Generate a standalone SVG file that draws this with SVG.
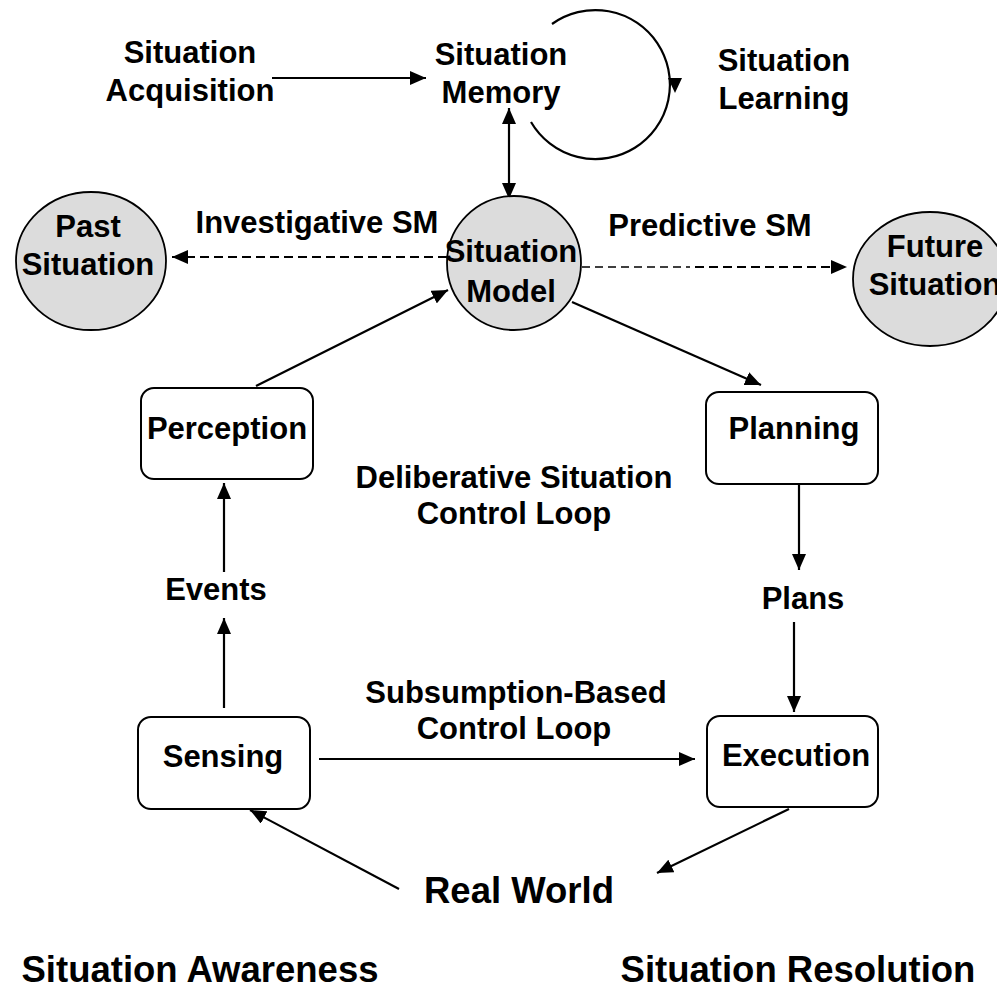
<svg xmlns="http://www.w3.org/2000/svg" width="997" height="992" viewBox="0 0 997 992">
<style>
text{font-family:"Liberation Sans",Arial,Helvetica,sans-serif;font-weight:bold;fill:#000;text-anchor:middle;font-size:31px}
.big{font-size:36.5px}
.box{fill:#fff;stroke:#000;stroke-width:2}
.ell{fill:#dcdcdc;stroke:#000;stroke-width:1.8}
.ln{stroke:#000;stroke-width:2.2;fill:none}
.dash{stroke:#000;stroke-width:2.2;fill:none;stroke-dasharray:9 5}
.dash2{stroke:#000;stroke-width:1.3;fill:none;stroke-dasharray:8 5}
</style>
<defs>
<marker id="ah" markerUnits="userSpaceOnUse" markerWidth="16" markerHeight="14" refX="16" refY="7" orient="auto-start-reverse" viewBox="0 0 16 14">
<path d="M0,0 L16,7 L0,14 z" fill="#000"/>
</marker>
</defs>
<rect width="997" height="992" fill="#fff"/>

<g id="connectors">
<line class="ln" x1="272" y1="78" x2="426" y2="78" marker-end="url(#ah)"/>
<path class="ln" d="M552,24 A74.5,74.5 0 1,1 531,122"/>
<path d="M668,78 L682,78 L675,93 z" fill="#000"/>
<line class="ln" x1="509" y1="108" x2="509" y2="199" marker-start="url(#ah)" marker-end="url(#ah)"/>
<line class="dash" x1="447" y1="257" x2="172" y2="257" marker-end="url(#ah)"/>
<line class="dash2" x1="582" y1="267" x2="690" y2="267"/>
<line class="dash" x1="695" y1="267" x2="847" y2="267" marker-end="url(#ah)"/>
<line class="ln" x1="256" y1="386" x2="448" y2="290" marker-end="url(#ah)"/>
<line class="ln" x1="572" y1="302" x2="761" y2="385" marker-end="url(#ah)"/>
<line class="ln" x1="224" y1="572" x2="224" y2="483" marker-end="url(#ah)"/>
<line class="ln" x1="224" y1="708" x2="224" y2="618" marker-end="url(#ah)"/>
<line class="ln" x1="799" y1="480" x2="799" y2="570" marker-end="url(#ah)"/>
<line class="ln" x1="794" y1="622" x2="794" y2="712" marker-end="url(#ah)"/>
<line class="ln" x1="319" y1="759" x2="695" y2="759" marker-end="url(#ah)"/>
<line class="ln" x1="789" y1="809" x2="657" y2="873" marker-end="url(#ah)"/>
<line class="ln" x1="399" y1="889" x2="250" y2="810" marker-end="url(#ah)"/>
</g>

<g id="situation-acquisition"><text x="190" y="63">Situation</text><text x="190" y="101">Acquisition</text></g>
<g id="situation-memory"><text x="501" y="65">Situation</text><text x="501" y="103">Memory</text></g>
<g id="situation-learning"><text x="784" y="71">Situation</text><text x="784" y="109">Learning</text></g>
<g id="investigative-sm"><text x="317" y="233">Investigative SM</text></g>
<g id="predictive-sm"><text x="710" y="236">Predictive SM</text></g>

<g id="past-situation"><ellipse class="ell" cx="91" cy="261" rx="75" ry="69"/><text x="88" y="237">Past</text><text x="88" y="275">Situation</text></g>
<g id="situation-model"><ellipse class="ell" cx="514" cy="263" rx="67" ry="67"/><text x="511" y="262">Situation</text><text x="511" y="302">Model</text></g>
<g id="future-situation"><ellipse class="ell" cx="930" cy="279" rx="77" ry="67"/><text x="935" y="257">Future</text><text x="935" y="295">Situation</text></g>

<g id="perception"><rect class="box" x="141" y="388" width="172" height="91" rx="13"/><text x="227" y="439">Perception</text></g>
<g id="planning"><rect class="box" x="706" y="392" width="172" height="92" rx="13"/><text x="794" y="439">Planning</text></g>
<g id="deliberative"><text x="514" y="488">Deliberative Situation</text><text x="514" y="524">Control Loop</text></g>
<g id="events"><text x="216" y="600">Events</text></g>
<g id="plans"><text x="803" y="609">Plans</text></g>
<g id="subsumption"><text x="516" y="703">Subsumption-Based</text><text x="514" y="739">Control Loop</text></g>
<g id="sensing"><rect class="box" x="138" y="717" width="172" height="92" rx="13"/><text x="223" y="767">Sensing</text></g>
<g id="execution"><rect class="box" x="707" y="716" width="171" height="91" rx="13"/><text x="796" y="766">Execution</text></g>
<g id="real-world"><text class="big" x="519" y="903">Real World</text></g>
<g id="situation-awareness"><text class="big" x="200" y="982">Situation Awareness</text></g>
<g id="situation-resolution"><text class="big" x="798" y="982">Situation Resolution</text></g>
</svg>
